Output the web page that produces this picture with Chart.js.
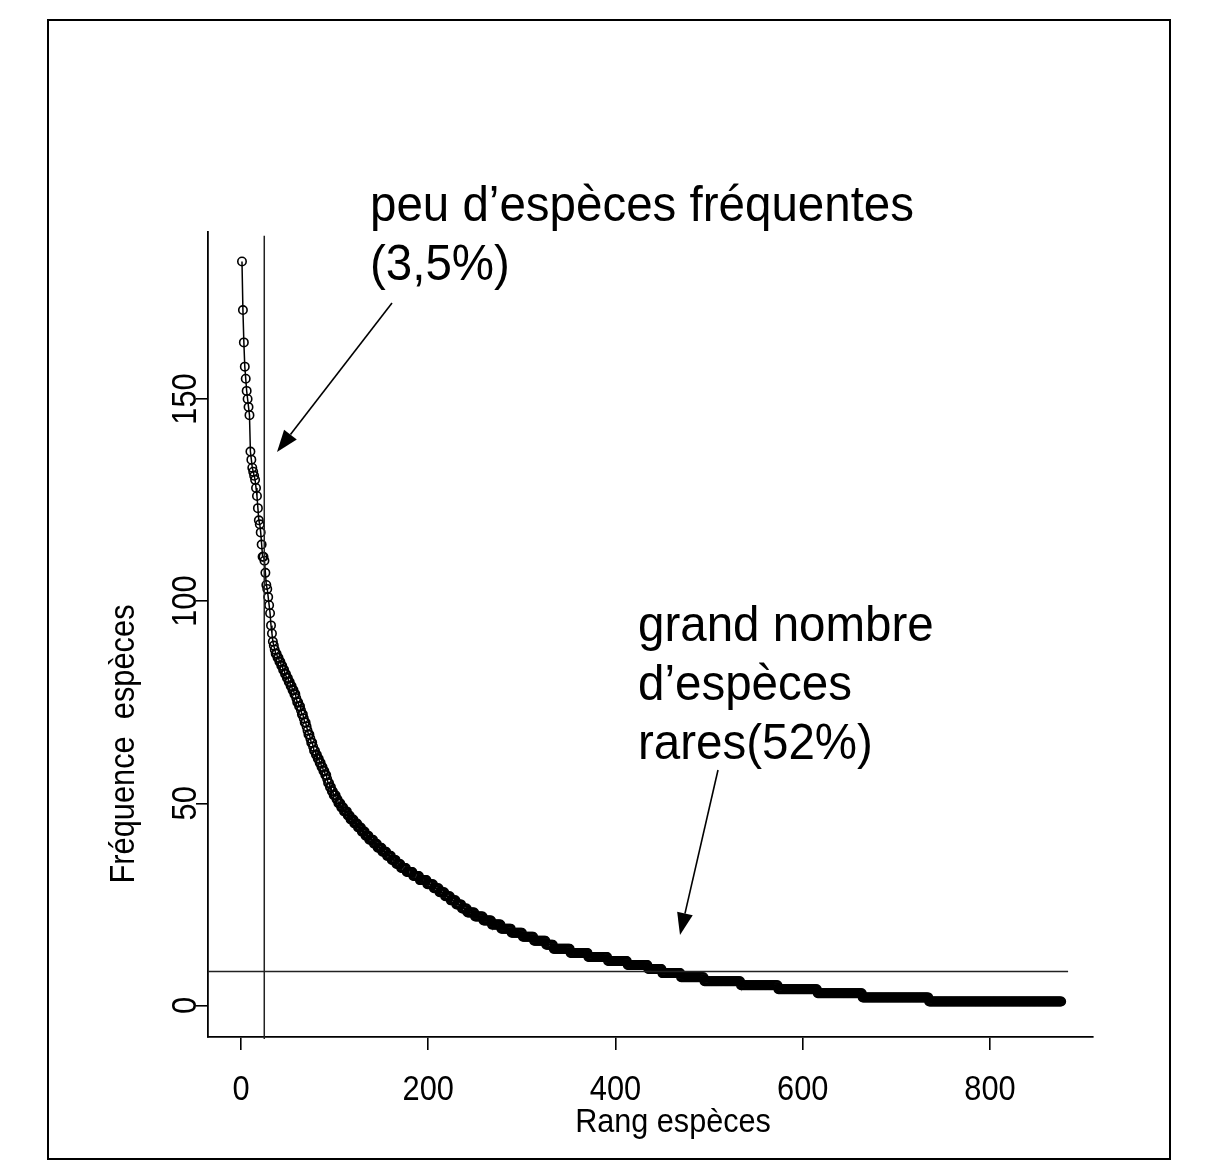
<!DOCTYPE html>
<html>
<head>
<meta charset="utf-8">
<script src="https://cdn.jsdelivr.net/npm/chart.js@4.4.1/dist/chart.umd.min.js"></script>
<style>
  html, body { margin: 0; padding: 0; background: #fff; }
  canvas { display: block; }
</style>
</head>
<body>
<canvas id="rangChart" width="1219" height="1162"></canvas>
<script>
// frequencies of the 36 most frequent species (rank 1..36)
const topFreqs = [184, 172, 164, 158, 155, 152, 150, 148, 146,
  137, 135, 133, 132, 131, 130, 128, 126, 123, 120, 119, 117, 114, 111, 111,
  110, 107, 104, 103, 101, 99, 97, 94, 92, 90, 89, 88];

// remaining species: frequency level and how many species share it
const tailFreqs = [87, 86, 85, 84, 83, 82, 81, 80, 79, 78, 77, 76, 75, 74, 73, 72,
  71, 70, 69, 68, 67, 66, 65, 64, 63, 62, 61, 60, 59, 58, 57, 56,
  55, 54, 53, 52, 51, 50, 49, 48, 47, 46, 45, 44, 43, 42, 41, 40,
  39, 38, 37, 36, 35, 34, 33, 32, 31, 30, 29, 28, 27, 26, 25, 24,
  23, 22, 21, 20, 19, 18, 17, 16, 15, 14, 13, 12, 11, 10, 9, 8,
  7, 6, 5, 4, 3, 2, 1];
const tailCounts = [2, 2, 2, 2, 2, 2, 2, 2, 2, 2, 2, 1, 2, 2, 1, 2,
  1, 2, 1, 1, 2, 1, 2, 1, 2, 2, 2, 2, 2, 2, 2, 1,
  2, 2, 2, 3, 2, 3, 3, 4, 3, 4, 4, 4, 4, 4, 5, 4,
  5, 5, 5, 5, 5, 6, 7, 7, 8, 7, 6, 6, 6, 6, 6, 6,
  8, 9, 9, 10, 11, 12, 12, 13, 8, 18, 19, 21, 21, 22, 15, 20,
  25, 39, 40, 42, 48, 71, 142];

const xTicks = [0, 200, 400, 600, 800];
const yTicks = [0, 50, 100, 150];
const cutRank = 24.8;   // vertical separator (frequent species)
const cutFreq = 8.4;    // horizontal separator (rare species)

const xTitle = 'Rang espèces';
const yTitle = 'Fréquence  espèces';

// build rank / frequency points
const points = [];
topFreqs.forEach(f => points.push({ x: points.length + 1, y: f }));
tailFreqs.forEach((f, i) => {
  for (let k = 0; k < tailCounts[i]; k++) points.push({ x: points.length + 1, y: f });
});

const FONT = '"Liberation Sans", Arial, Helvetica, sans-serif';

function txt(ctx, s, x, y, size, sx, align, rot) {
  ctx.save();
  ctx.translate(x, y);
  ctx.rotate(rot || 0);
  ctx.scale(sx, 1);
  ctx.font = size + 'px ' + FONT;
  ctx.fillStyle = '#000';
  ctx.textAlign = align;
  ctx.textBaseline = 'alphabetic';
  ctx.fillText(s, 0, 0);
  ctx.restore();
}

function arrow(ctx, x1, y1, x2, y2) {
  const a = Math.atan2(y2 - y1, x2 - x1), len = 22, hw = 8;
  const bx = x2 - len * Math.cos(a), by = y2 - len * Math.sin(a);
  ctx.beginPath();
  ctx.moveTo(x1, y1);
  ctx.lineTo(bx, by);
  ctx.lineWidth = 1.6;
  ctx.strokeStyle = '#000';
  ctx.stroke();
  ctx.beginPath();
  ctx.moveTo(x2, y2);
  ctx.lineTo(bx + hw * Math.sin(a), by - hw * Math.cos(a));
  ctx.lineTo(bx - hw * Math.sin(a), by + hw * Math.cos(a));
  ctx.closePath();
  ctx.fillStyle = '#000';
  ctx.fill();
}

const overlay = {
  id: 'overlay',
  afterDraw(chart) {
    const ctx = chart.ctx, xs = chart.scales.x, ys = chart.scales.y;
    ctx.save();
    // figure frame
    ctx.strokeStyle = '#000';
    ctx.lineWidth = 2;
    ctx.strokeRect(48, 20, 1122, 1139);

    // tick labels (narrow Helvetica look)
    xTicks.forEach(v => txt(ctx, String(v), xs.getPixelForValue(v), 1100, 35, 0.88, 'center', 0));
    yTicks.forEach(v => txt(ctx, String(v), 196, ys.getPixelForValue(v), 35, 0.88, 'center', -Math.PI / 2));

    // axis titles
    txt(ctx, xTitle, 673, 1132, 34, 0.9, 'center', 0);
    txt(ctx, yTitle, 134, 744, 35, 0.88, 'center', -Math.PI / 2);

    // annotations
    txt(ctx, 'peu d\u2019espèces fréquentes', 370, 221, 50, 0.95, 'left', 0);
    txt(ctx, '(3,5%)', 370, 280, 50, 0.95, 'left', 0);
    arrow(ctx, 392, 303, 277, 452);

    txt(ctx, 'grand nombre', 638, 641, 50, 0.95, 'left', 0);
    txt(ctx, 'd\u2019espèces', 638, 700, 50, 0.95, 'left', 0);
    txt(ctx, 'rares(52%)', 638, 759, 50, 0.95, 'left', 0);
    arrow(ctx, 718, 770, 680, 935);
    ctx.restore();
  }
};

new Chart(document.getElementById('rangChart'), {
  type: 'scatter',
  data: {
    datasets: [
      {
        data: [{ x: -35.3, y: cutFreq }, { x: 883.4, y: cutFreq }],
        showLine: true, pointRadius: 0, borderColor: '#222', borderWidth: 1.5, clip: false
      },
      {
        data: [{ x: cutRank, y: -8.3 }, { x: cutRank, y: 190.4 }],
        showLine: true, pointRadius: 0, borderColor: '#222', borderWidth: 1.5, clip: false
      },
      {
        data: points,
        showLine: true,
        borderColor: '#000',
        borderWidth: 1.5,
        pointStyle: 'circle',
        pointRadius: 4.2,
        pointBorderWidth: 1.6,
        pointBorderColor: '#000',
        pointBackgroundColor: 'rgba(0,0,0,0)',
        clip: false
      }
    ]
  },
  options: {
    responsive: false,
    animation: false,
    events: [],
    layout: { padding: { left: 0, top: 232, right: 126, bottom: 0 } },
    plugins: { legend: { display: false }, tooltip: { enabled: false } },
    scales: {
      x: {
        type: 'linear', min: -35.3, max: 910,
        afterBuildTicks: s => { s.ticks = xTicks.map(v => ({ value: v })); },
        afterFit: s => { s.height = 125; },
        ticks: { display: false },
        grid: { display: true, drawOnChartArea: false, drawTicks: true, tickLength: 13, color: '#000', lineWidth: 1.6 },
        border: { display: true, color: '#000', width: 1.8 }
      },
      y: {
        type: 'linear', min: -7.8, max: 191.3,
        afterBuildTicks: s => { s.ticks = yTicks.map(v => ({ value: v })); },
        afterFit: s => { s.width = 208; },
        ticks: { display: false },
        grid: { display: true, drawOnChartArea: false, drawTicks: true, tickLength: 12, color: '#000', lineWidth: 1.6 },
        border: { display: true, color: '#000', width: 1.8 }
      }
    }
  },
  plugins: [overlay]
});
</script>
</body>
</html>
